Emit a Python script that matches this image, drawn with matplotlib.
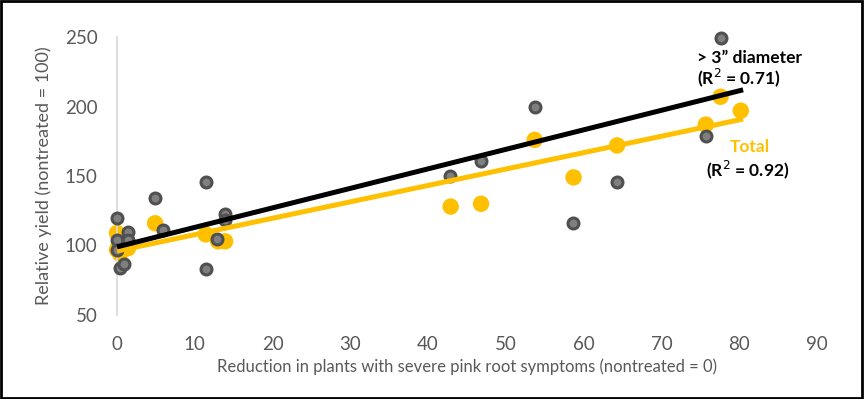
import numpy as np
import matplotlib
matplotlib.use("Agg")
import matplotlib.pyplot as plt
from matplotlib.patches import Rectangle

# ── Data ──────────────────────────────────────────────────────────────────────
big_x = [0, 0, 0, 1.4, 1.4, 0.4, 0.9, 4.9, 5.9, 11.4, 11.4, 12.9, 13.9, 13.9,
         42.8, 46.8, 53.7, 58.6, 64.3, 75.7, 77.6]
big_y = [120, 104, 97, 110, 104, 84, 87, 134, 111, 146, 83, 105, 123, 118,
         150, 161, 200, 116, 146, 179, 249]

tot_x = [0, 0, 0.4, 1.4, 4.9, 11.4, 13.0, 13.9, 42.9, 46.8, 53.7, 58.7,
         64.3, 75.7, 77.6, 80.2]
tot_y = [109, 97, 94, 98, 116, 108, 103, 103, 128, 130, 176, 149, 172,
         187, 207, 197]

# trendline ends as drawn in the source chart
big_fit_x = [0, 80.5]
big_fit_y = [99, 212]
tot_fit_x = [0, 80.5]
tot_fit_y = [96, 191]

x_ticks = [0, 10, 20, 30, 40, 50, 60, 70, 80, 90]
y_ticks = [50, 100, 150, 200, 250]

GRAY_TXT = "#595959"
YELLOW   = "#FFC000"

plt.rcParams["font.family"] = ["Lato", "DejaVu Sans"]

fig = plt.figure(figsize=(8.64, 3.99), dpi=100)
ax = fig.add_axes([117 / 864, 1 - 315 / 399, 700 / 864, 278 / 399])

# points
ax.scatter(tot_x, tot_y, s=140, c=YELLOW, edgecolors="none", zorder=2,
           clip_on=False)
ax.scatter(big_x, big_y, s=62, c="#7f7f7f", edgecolors="#505050",
           linewidths=2.2, zorder=3, clip_on=False)

# linear trendlines
ax.plot(tot_fit_x, tot_fit_y, color=YELLOW, lw=3.6, solid_capstyle="butt",
        zorder=4, clip_on=False)
ax.plot(big_fit_x, big_fit_y, color="black", lw=3.6, solid_capstyle="butt",
        zorder=5, clip_on=False)

ax.set_xlim(0, 90)
ax.set_ylim(50, 250)
ax.set_xticks(x_ticks)
ax.set_yticks(y_ticks)
ax.tick_params(length=0, labelsize=13.5, colors=GRAY_TXT)
ax.tick_params(axis="x", pad=15)
ax.tick_params(axis="y", pad=14)
for s in ["top", "right", "bottom"]:
    ax.spines[s].set_visible(False)
ax.spines["left"].set_color("#d9d9d9")
ax.spines["left"].set_linewidth(1.2)

ax.set_xlabel("Reduction in plants with severe pink root symptoms (nontreated = 0)",
              fontsize=12, color=GRAY_TXT)
ax.xaxis.set_label_coords(0.5, -0.155)
ax.set_ylabel("Relative yield (nontreated = 100)", fontsize=13, color=GRAY_TXT)
ax.yaxis.set_label_coords(-0.093, 0.5)

# annotations
ax.text(74.6, 235, "> 3\u201d diameter", fontsize=12.5, fontweight="bold",
        color="black", ha="left", va="center")
ax.text(74.6, 220.5, "(R$^2$ = 0.71)", fontsize=12.5, fontweight="bold",
        color="black", ha="left", va="center")
ax.text(81.4, 171, "Total", fontsize=12.5, fontweight="bold",
        color=YELLOW, ha="center", va="center")
ax.text(75.7, 154.3, "(R$^2$ = 0.92)", fontsize=12.5, fontweight="bold",
        color="black", ha="left", va="center")

# black frame round the figure
fig.patches.append(Rectangle((0.001, 0.002), 0.997, 0.995, transform=fig.transFigure,
                             fill=False, edgecolor="black", linewidth=2))

fig.savefig("out.png", dpi=100, facecolor="white")
